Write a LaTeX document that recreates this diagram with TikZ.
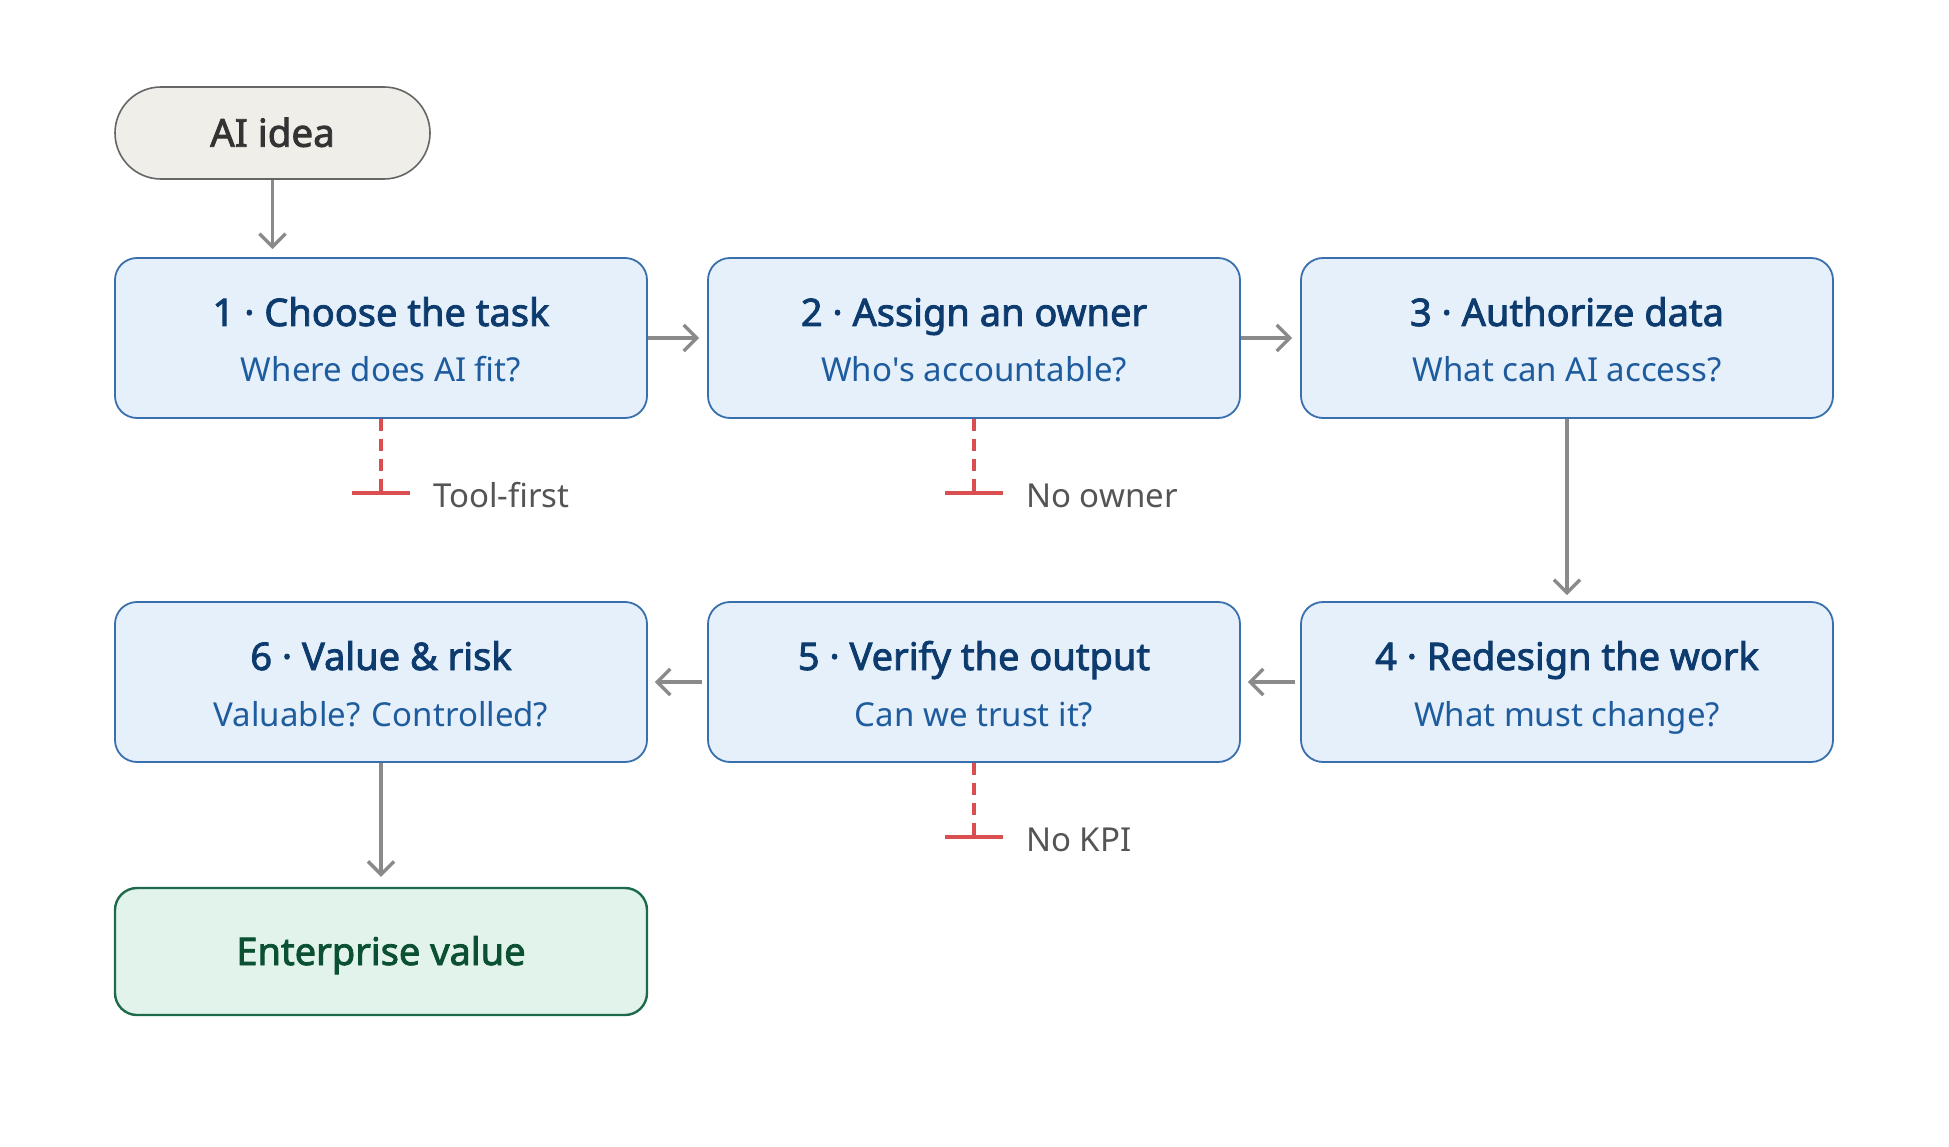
\documentclass[tikz,border=0pt]{standalone}
\usepackage{fontspec}
\defaultfontfeatures{}
\setmainfont{Noto Sans}[AutoFakeBold=2.2]
\usetikzlibrary{arrows.meta}
\definecolor{boxfill}{HTML}{E6F0FB}
\definecolor{boxline}{HTML}{3A6FAD}
\definecolor{titlecol}{HTML}{0D3B6E}
\definecolor{subcol}{HTML}{1F5C9E}
\definecolor{pillfill}{HTML}{F0EEE9}
\definecolor{pillline}{HTML}{666666}
\definecolor{pilltext}{HTML}{333333}
\definecolor{entfill}{HTML}{E1F3EA}
\definecolor{entline}{HTML}{1D6B4B}
\definecolor{enttext}{HTML}{0B5032}
\definecolor{arrowcol}{HTML}{8A8A8A}
\definecolor{redcol}{HTML}{DA4E50}
\definecolor{labcol}{HTML}{555555}
\newcommand{\straightquote}{\XeTeXglyph\XeTeXcharglyph"27\relax}
\begin{document}
\begin{tikzpicture}[x=1pt,y=-1pt,
  stepbox/.style={draw=boxline, fill=boxfill, line width=1.8pt, rounded corners=22pt,
    minimum width=532pt, minimum height=160pt, inner sep=0pt},
  titletext/.style={anchor=base, text=titlecol, font=\fontsize{38}{42}\selectfont\bfseries, inner sep=0pt},
  subtext/.style={anchor=base, text=subcol, font=\fontsize{33}{38}\selectfont, inner sep=0pt},
  pillbox/.style={draw=pillline, fill=pillfill, line width=1.6pt, rounded corners=46pt,
    minimum width=315pt, minimum height=92pt, inner sep=0pt, text=pilltext,
    font=\fontsize{38.5}{42}\selectfont\bfseries, text height=27.5pt, text depth=0pt},
  entbox/.style={draw=entline, fill=entfill, line width=2.4pt, rounded corners=22pt,
    minimum width=532pt, minimum height=127pt, inner sep=0pt, text=enttext,
    font=\fontsize{38}{42}\selectfont\bfseries, text height=27pt, text depth=0pt},
  flow/.style={draw=arrowcol, line width=3.4pt, -{Straight Barb[length=13pt,width=26pt,line width=3.4pt]}},
  blockline/.style={draw=redcol, line width=3.4pt, dash pattern=on 12pt off 8pt},
  blockbar/.style={draw=redcol, line width=4.8pt},
  blocklabel/.style={anchor=base west, text=labcol, font=\fontsize{33}{36}\selectfont, inner sep=0pt}
]
\useasboundingbox (0,0) rectangle (1949,1147);
\fill[white] (0,0) rectangle (1949,1147);

% start pill
\node[pillbox] (idea) at (272.5,133) {AI idea};

% row 1
\node[stepbox] (b1) at (381,338) {};
\node[stepbox] (b2) at (974,338) {};
\node[stepbox] (b3) at (1567,338) {};
% row 2
\node[stepbox] (b6) at (381,682) {};
\node[stepbox] (b5) at (974,682) {};
\node[stepbox] (b4) at (1567,682) {};
% end box
\node[entbox] (ent) at (381,951.5) {Enterprise value};

% texts
\node[titletext] (b1t) at (381,326) {1 · Choose the task};
\node[subtext]   (b1s) at (381,382) {Where does AI fit?};
\node[titletext] (b2t) at (974,326) {2 · Assign an owner};
\node[subtext]   (b2s) at (974,382) {Who\straightquote s accountable?};
\node[titletext] (b3t) at (1567,326) {3 · Authorize data};
\node[subtext]   (b3s) at (1567,382) {What can AI access?};
\node[titletext] (b4t) at (1567,670) {4 · Redesign the work};
\node[subtext]   (b4s) at (1567,726) {What must change?};
\node[titletext] (b5t) at (974,670) {5 · Verify the output};
\node[subtext]   (b5s) at (974,726) {Can we trust it?};
\node[titletext] (b6t) at (381,670) {6 · Value \& risk};
\node[subtext]   (b6s) at (381,726) {Valuable? Controlled?};

% flow arrows
\draw[flow, shorten >=8pt] (idea.south) -- (idea.south |- b1.north);
\draw[flow, shorten >=8pt] (b1.east) -- (b2.west);
\draw[flow, shorten >=8pt] (b2.east) -- (b3.west);
\draw[flow, shorten >=6pt] (b3.south) -- (b4.north);
\draw[flow, shorten <=5pt, shorten >=7pt] (b4.west) -- (b5.east);
\draw[flow, shorten <=5pt, shorten >=7pt] (b5.west) -- (b6.east);
\draw[flow, shorten >=10pt] (b6.south) -- (ent.north);

% blockers
\coordinate (k1) at (381,493);
\coordinate (k1l) at (352,493);
\coordinate (k1r) at (410,493);
\draw[blockline] (b1.south) -- (k1);
\draw[blockbar] (k1l) -- (k1r);
\node[blocklabel] (l1) at (433,507) {Tool-first};

\coordinate (k2) at (974,493);
\coordinate (k2l) at (945,493);
\coordinate (k2r) at (1003,493);
\draw[blockline] (b2.south) -- (k2);
\draw[blockbar] (k2l) -- (k2r);
\node[blocklabel] (l2) at (1026,507) {No owner};

\coordinate (k5) at (974,837);
\coordinate (k5l) at (945,837);
\coordinate (k5r) at (1003,837);
\draw[blockline] (b5.south) -- (k5);
\draw[blockbar] (k5l) -- (k5r);
\node[blocklabel] (l5) at (1026,851) {No KPI};
\end{tikzpicture}
\end{document}
